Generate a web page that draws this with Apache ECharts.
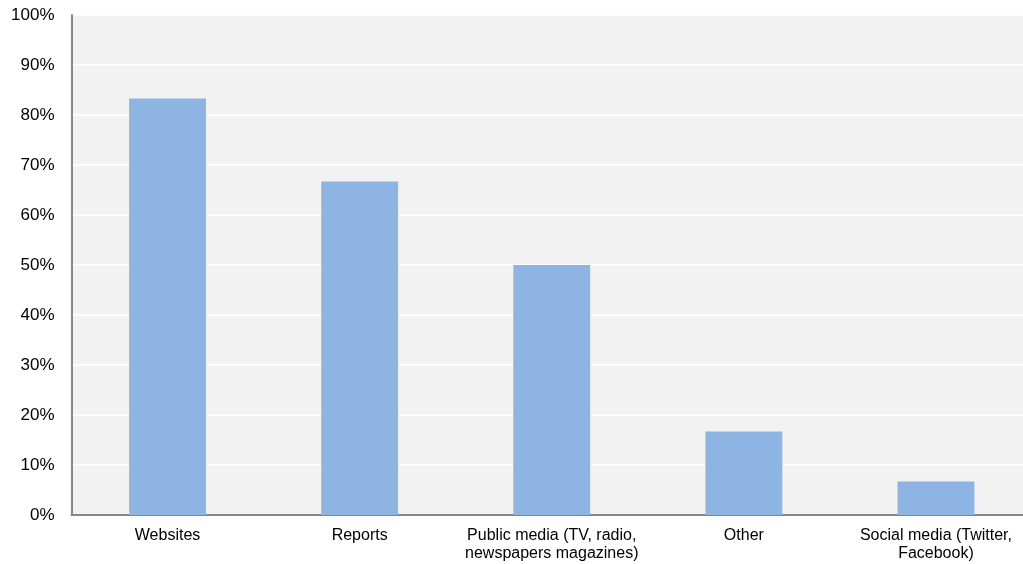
<!DOCTYPE html>
<html><head><meta charset="utf-8">
<script src="https://cdn.jsdelivr.net/npm/echarts@6/dist/echarts.min.js"></script>
<style>html,body{margin:0;padding:0;background:#fff}#c{width:1023px;height:564px}</style>
</head><body><div id="c"></div>
<script>
const categories = ['Websites', 'Reports', 'Public media (TV, radio,\nnewspapers magazines)', 'Other', 'Social media (Twitter,\nFacebook)'];
const values = [83.3, 66.7, 50.0, 16.7, 6.7];
const yTicks = { min: 0, max: 100, interval: 10 };
const chart = echarts.init(document.getElementById('c'));
chart.setOption({
  animation: false,
  textStyle: { fontFamily: 'Liberation Sans, Arial, sans-serif' },
  grid: { left: 71.5, width: 960.5, top: 15, height: 500, outerBoundsMode: 'none', containLabel: false, show: true, backgroundColor: '#F2F2F2', borderWidth: 0 },
  xAxis: {
    type: 'category', data: categories,
    axisLine: { lineStyle: { color: '#868686', width: 2 } },
    axisTick: { show: false },
    axisLabel: { color: '#000', fontSize: 16, margin: 12, lineHeight: 18, interval: 0 }
  },
  yAxis: {
    type: 'value', min: yTicks.min, max: yTicks.max, interval: yTicks.interval,
    axisLine: { show: true, lineStyle: { color: '#868686', width: 2 } },
    axisTick: { show: false },
    axisLabel: { color: '#000', fontSize: 17, formatter: '{value}%', margin: 17 },
    splitLine: { lineStyle: { color: '#FFFFFF', width: 1.5 } }
  },
  series: [{ type: 'bar', data: values, barWidth: '40%', itemStyle: { color: '#8EB4E3' } }]
});
</script></body></html>
